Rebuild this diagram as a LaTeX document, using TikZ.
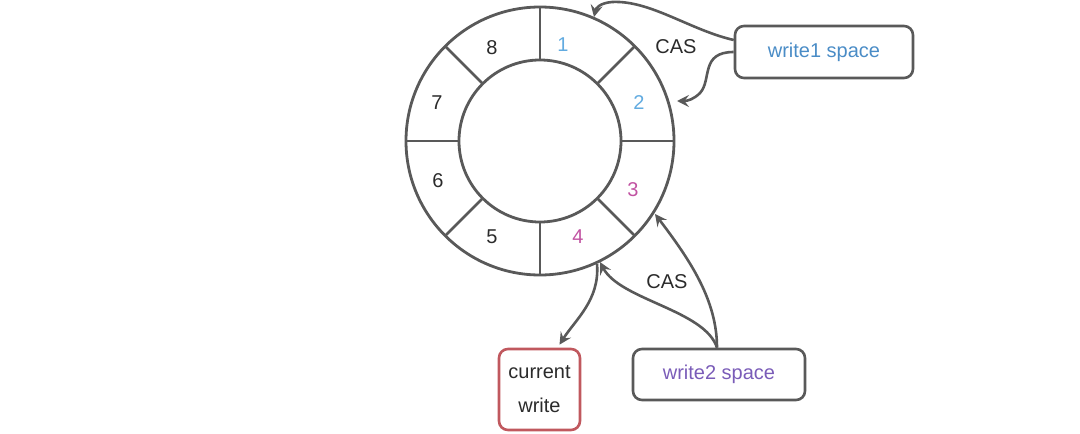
\documentclass[tikz,border=0pt]{standalone}
\usepackage{fontspec}
\setmainfont{Liberation Sans}
\usetikzlibrary{arrows.meta,calc}
\definecolor{lg}{HTML}{595959}
\definecolor{tx}{HTML}{2B2B2B}
\definecolor{lblue}{HTML}{62ABE0}
\definecolor{dblue}{HTML}{4A8CC6}
\definecolor{pinkc}{HTML}{C153A2}
\definecolor{purp}{HTML}{7A5CB8}
\definecolor{redb}{HTML}{C0585E}
\tikzset{
  txt/.style={font=\fontsize{20}{34}\selectfont, inner sep=0pt, text=tx},
  box/.style={draw=lg, line width=2.6pt, rounded corners=9pt, txt},
  conn/.style={draw=lg, line width=2.6pt, -{Stealth[length=12pt,width=12pt,inset=4.5pt]}},
  ring/.style={draw=lg, line width=2.8pt}
}
\begin{document}
\begin{tikzpicture}[x=1pt,y=-1pt]
\useasboundingbox (0,0) rectangle (1080,434);
\coordinate (c) at (540,141);
\draw[ring] (c) circle[radius=134pt];
\draw[ring] (c) circle[radius=81pt];
\foreach \a in {0,45,...,315}{
  \draw[ring] ($(c)+(\a:81pt)$) -- ($(c)+(\a:134pt)$);
}
\node[txt, text=lblue] (n1) at (563,45) {1};
\node[txt, text=lblue] (n2) at (639,103) {2};
\node[txt, text=pinkc] (n3) at (633,190) {3};
\node[txt, text=pinkc] (n4) at (578,237) {4};
\node[txt] (n5) at (492,237) {5};
\node[txt] (n6) at (438,181) {6};
\node[txt] (n7) at (437,103) {7};
\node[txt] (n8) at (492,48) {8};

\node[box, text=dblue, minimum width=178pt, minimum height=52pt] (w1) at (824,52) {write1 space};
\node[box, text=purp, minimum width=172pt, minimum height=51pt] (w2) at (719,374.5) {write2 space};
\node[box, draw=redb, align=center, minimum width=81pt, minimum height=81pt] (cw) at (539.5,389.5) {current\\write};

\node[txt] (cas1) at (676,47) {CAS};
\node[txt] (cas2) at (667,282) {CAS};

\coordinate (r1) at (594,17);
\coordinate (r2) at (677,101);
\coordinate (r3) at (655,214);
\coordinate (r4) at (600,262);
\coordinate (r4b) at (597,264);
\coordinate (w1a) at ($(w1.west)+(0,-12)$);
\coordinate (w2a) at ($(w2.north)+(-2,0)$);
\coordinate (cwa) at ($(cw.north)+(20,-3)$);

\draw[conn] (w1a) .. controls (690,30) and (650,0) .. (612,2) .. controls (600,3) and (596,8) .. (r1);
\draw[conn] (w1.west) .. controls (700,52) and (712,80) .. (700,93) .. controls (694,99) and (688,101) .. (r2);
\draw[conn] (w2a) .. controls (717,300) and (690,260) .. (r3);
\draw[conn] (w2a) .. controls (705,310) and (620,300) .. (r4);
\draw[conn] (r4b) .. controls (600,300) and (575,320) .. (cwa);
\end{tikzpicture}
\end{document}
